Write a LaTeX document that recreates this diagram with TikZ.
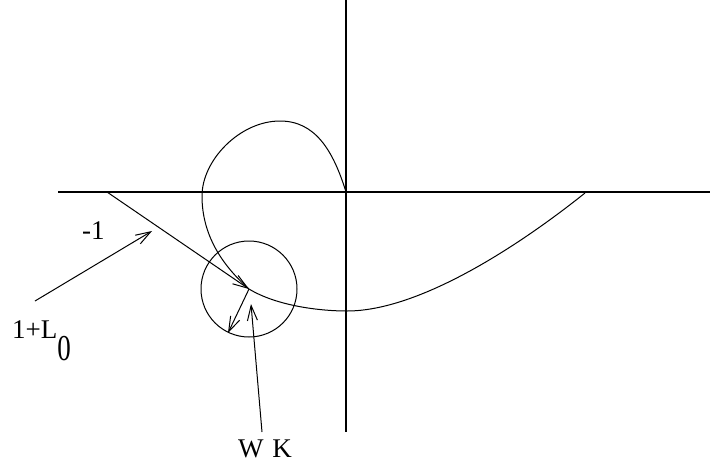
\documentclass[tikz,border=0pt]{standalone}
\usepackage{fontspec}
\setmainfont{Liberation Serif}
\usetikzlibrary{arrows.meta}
\begin{document}
\begin{tikzpicture}[x=1pt,y=-1pt,
  axis/.style={line width=2pt},
  thin/.style={line width=1pt},
  arr/.style={thin,-{Straight Barb[length=15pt,width=10pt,line width=1pt]}},
  lbl/.style={font=\fontsize{27}{32}\selectfont, inner sep=0pt}]
\useasboundingbox (0,0) rectangle (723,466);
% axes
\coordinate (xl) at (58,192);
\coordinate (xr) at (710,192);
\coordinate (yt) at (346,0);
\coordinate (yb) at (346,432);
\coordinate (o) at (346,192);
\draw[axis] (xl) -- (xr);
\draw[axis] (yt) -- (yb);
% points
\coordinate (m1) at (107,192);
\coordinate (p) at (249,289);
\coordinate (e) at (228,333);
\coordinate (w) at (251,304);
\coordinate (a1) at (152,231);
\coordinate (top) at (280,121);
\coordinate (lft) at (202,196);
\coordinate (bot) at (347,311);
\coordinate (end) at (585,193);
% curve
\draw[thin] (o) .. controls (333,150) and (315,121) .. (top)
  .. controls (240,121) and (202,160) .. (lft)
  .. controls (202,235) and (222,265) .. (p)
  .. controls (277,306) and (320,311) .. (bot)
  .. controls (420,311) and (520,245) .. (end);
% circle
\node[draw, thin, circle, minimum size=96pt, inner sep=0pt] (c) at (p) {};
\draw[arr] (m1) -- (p);
\draw[arr] (p) -- (e);
% labels
\node[lbl, anchor=base west] (lm1) at (82,239) {-1};
\node[lbl, anchor=base west] (lL) at (12,338) {1+L\raisebox{-22pt}{\scalebox{1}[1.35]{0}}};
\node[lbl, anchor=base] (lwk) at (265,457) {W\,\,K};
\coordinate (s1) at (35,301);
\coordinate (s2) at (262,432);
\draw[arr] (s1) -- (a1);
\draw[arr] (s2) -- (w);
\end{tikzpicture}
\end{document}
